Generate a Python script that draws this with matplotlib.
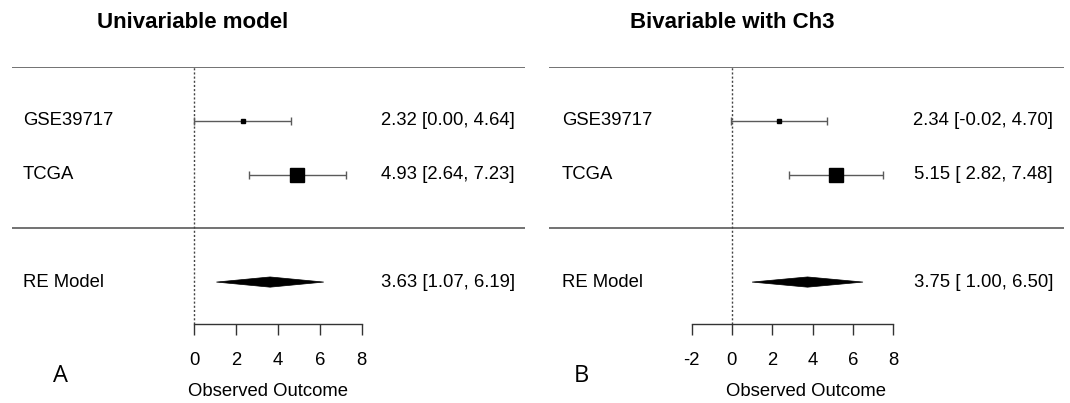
import matplotlib
matplotlib.use("Agg")
import matplotlib.pyplot as plt
from matplotlib.patches import Polygon

# ---------------- data ----------------
studies = ["GSE39717", "TCGA"]
summary_label = "RE Model"

uni_est = [2.32, 4.93]
uni_lo = [0.00, 2.64]
uni_hi = [4.64, 7.23]
uni_re = [3.63, 1.07, 6.19]

bi_est = [2.34, 5.15]
bi_lo = [-0.02, 2.82]
bi_hi = [4.70, 7.48]
bi_re = [3.75, 1.00, 6.50]

uni_ticks = [0, 2, 4, 6, 8]
bi_ticks = [-2, 0, 2, 4, 6, 8]

titles = ["Univariable model", "Bivariable with Ch3"]
panel_letters = ["A", "B"]
xlabel = "Observed Outcome"

# ---------------- style ----------------
W, H = 1070, 403
DPI = 100
FS = 13.3
GRAY = "#5a5a5a"
marker_sizes = [3.2, 9.5]

plt.rcParams["font.family"] = ["Liberation Sans", "DejaVu Sans"]

fig = plt.figure(figsize=(W / DPI, H / DPI), dpi=DPI)


def fmt_labels(est, lo, hi):
    lo_s = [f"{v:.2f}" for v in lo]
    hi_s = [f"{v:.2f}" for v in hi]
    wl = max(len(s) for s in lo_s)
    wh = max(len(s) for s in hi_s)
    return [f"{e:.2f} [{l:>{wl}}, {h:>{wh}}]" for e, l, h in zip(est, lo_s, hi_s)]


def panel(px_left, px_right, xlim, est, lo, hi, re, ticks, title, letter,
          lab_x, txt_x, title_x, letter_x):
    top_px, bot_px = 67, 324
    ax = fig.add_axes([px_left / W, 1 - bot_px / H,
                       (px_right - px_left) / W, (bot_px - top_px) / H])
    ymin, ymax = -1.78, 3.0
    ax.set_xlim(*xlim)
    ax.set_ylim(ymin, ymax)
    for s in ["top", "left", "right"]:
        ax.spines[s].set_visible(False)
    ax.spines["bottom"].set_bounds(ticks[0], ticks[-1])
    ax.spines["bottom"].set_color("#333333")
    ax.spines["bottom"].set_linewidth(1.0)
    ax.set_yticks([])
    ax.set_xticks(ticks)
    ax.set_xticklabels([str(t) for t in ticks])
    ax.tick_params(axis="x", length=8, width=1.0, color="#333333",
                   pad=12, labelsize=FS)
    ax.set_xlabel(xlabel, fontsize=FS, labelpad=10)

    # horizontal separators
    ax.axhline(3.0, color=GRAY, lw=1.2)
    ax.axhline(0.0, color=GRAY, lw=1.2)
    # reference line
    ax.plot([0, 0], [ymin, ymax], ls=(0, (1.5, 1.5)), color="#444444", lw=1.0)

    rows = [2, 1]
    e_all = list(est) + [re[0]]
    l_all = list(lo) + [re[1]]
    h_all = list(hi) + [re[2]]
    labels = fmt_labels(e_all, l_all, h_all)
    for r, name, e, l, h, ms, lab in zip(rows, studies, est, lo, hi,
                                         marker_sizes, labels[:-1]):
        ax.errorbar([e], [r], xerr=[[e - l], [h - e]], fmt="none",
                    ecolor=GRAY, elinewidth=1.0, capsize=2.6, capthick=1.0)
        ax.plot([e], [r], marker="s", ms=ms, color="black", ls="none")
        ax.text(lab_x, r, name, ha="left", va="center", fontsize=FS)
        ax.text(txt_x, r, lab, ha="right", va="center", fontsize=FS)

    # summary diamond
    e, l, h = re
    hh = 0.095
    ax.add_patch(Polygon([[l, -1], [e, -1 + hh], [h, -1], [e, -1 - hh]],
                         closed=True, facecolor="black", edgecolor="black",
                         lw=0.5))
    ax.text(lab_x, -1, summary_label, ha="left", va="center", fontsize=FS)
    ax.text(txt_x, -1, labels[-1], ha="right", va="center", fontsize=FS)

    fig.text(title_x / W, 1 - 22 / H, title, ha="center", va="center",
             fontsize=16, fontweight="bold")
    fig.text(letter_x / W, 1 - 376 / H, letter, ha="center", va="center",
             fontsize=17, family=["Open Sans", "DejaVu Sans"])
    return ax


# left panel: x_px = 194 + 20.96 * v
ax1 = panel(12, 525, (-182 / 20.96, 331 / 20.96), uni_est, uni_lo, uni_hi,
            uni_re, uni_ticks, titles[0], panel_letters[0],
            lab_x=(23 - 194) / 20.96, txt_x=(515 - 194) / 20.96,
            title_x=193, letter_x=61)

# right panel: x_px = 731.9 + 20.17 * v
ax2 = panel(549, 1064, ((549 - 731.9) / 20.17, (1064 - 731.9) / 20.17),
            bi_est, bi_lo, bi_hi, bi_re, bi_ticks, titles[1], panel_letters[1],
            lab_x=(562 - 731.9) / 20.17, txt_x=(1053 - 731.9) / 20.17,
            title_x=732, letter_x=581)

fig.savefig("out.png", dpi=DPI, facecolor="white")
